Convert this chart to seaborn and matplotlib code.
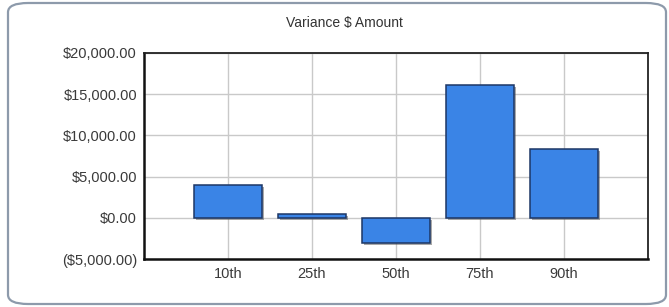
import matplotlib
matplotlib.use("Agg")
import matplotlib.pyplot as plt
import matplotlib.patheffects as pe
from matplotlib.patches import FancyBboxPatch
from matplotlib.ticker import FuncFormatter
import seaborn as sns

# ─── Data ────────────────────────────────────────────────────────────────────
categories = ["10th", "25th", "50th", "75th", "90th"]
variance   = [4000, 500, -3100, 16150, 8400]
y_ticks    = [-5000, 0, 5000, 10000, 15000, 20000]

TITLE = "Variance $ Amount"


def money(v, _pos=None):
    s = f"${abs(v):,.2f}"
    return f"({s})" if v < 0 else s


sns.set_theme(style="white")
plt.rcParams["font.family"] = ["Liberation Sans", "DejaVu Sans"]

fig = plt.figure(figsize=(6.69, 3.07), dpi=100)
fig.patch.set_facecolor("white")

# rounded frame round the whole chart
frame = FancyBboxPatch((8 / 669, 3 / 307), 658 / 669, 301 / 307,
                       boxstyle="round,pad=0,rounding_size=0.03",
                       transform=fig.transFigure, fill=False,
                       edgecolor="#8d9aab", linewidth=1.6, zorder=0)
fig.patches.append(frame)

ax = fig.add_axes([144 / 669, 1 - 259 / 307, 504 / 669, 206 / 307])

sns.barplot(x=categories, y=variance, color="#3a84e6", saturation=1,
            width=0.81, edgecolor="#1d3766", linewidth=1.1, ax=ax, zorder=3)
for bar in ax.patches:
    bar.set_path_effects([pe.SimplePatchShadow(offset=(1.5, -1.5),
                                               shadow_rgbFace="#555555",
                                               alpha=0.5),
                          pe.Normal()])

ax.set_xlim(-1, len(categories))
ax.set_ylim(y_ticks[0], y_ticks[-1])
ax.set_yticks(y_ticks)
ax.yaxis.set_major_formatter(FuncFormatter(money))
ax.set_xlabel("")
ax.set_ylabel("")

ax.grid(True, color="#c9c9c9", linewidth=1, zorder=0)
ax.set_axisbelow(True)
ax.tick_params(length=0, labelsize=10.5, labelcolor="#3a3a3a")
ax.tick_params(axis="y", pad=5)
ax.tick_params(axis="x", pad=6)

for side in ["left", "bottom"]:
    ax.spines[side].set_color("#111111")
    ax.spines[side].set_linewidth(1.8)
for side in ["top", "right"]:
    ax.spines[side].set_color("#222222")
    ax.spines[side].set_linewidth(1.3)

fig.text(344 / 669, 1 - 23 / 307, TITLE, ha="center", va="center",
         fontsize=10, color="#333333")

fig.savefig("out.png", dpi=100)
